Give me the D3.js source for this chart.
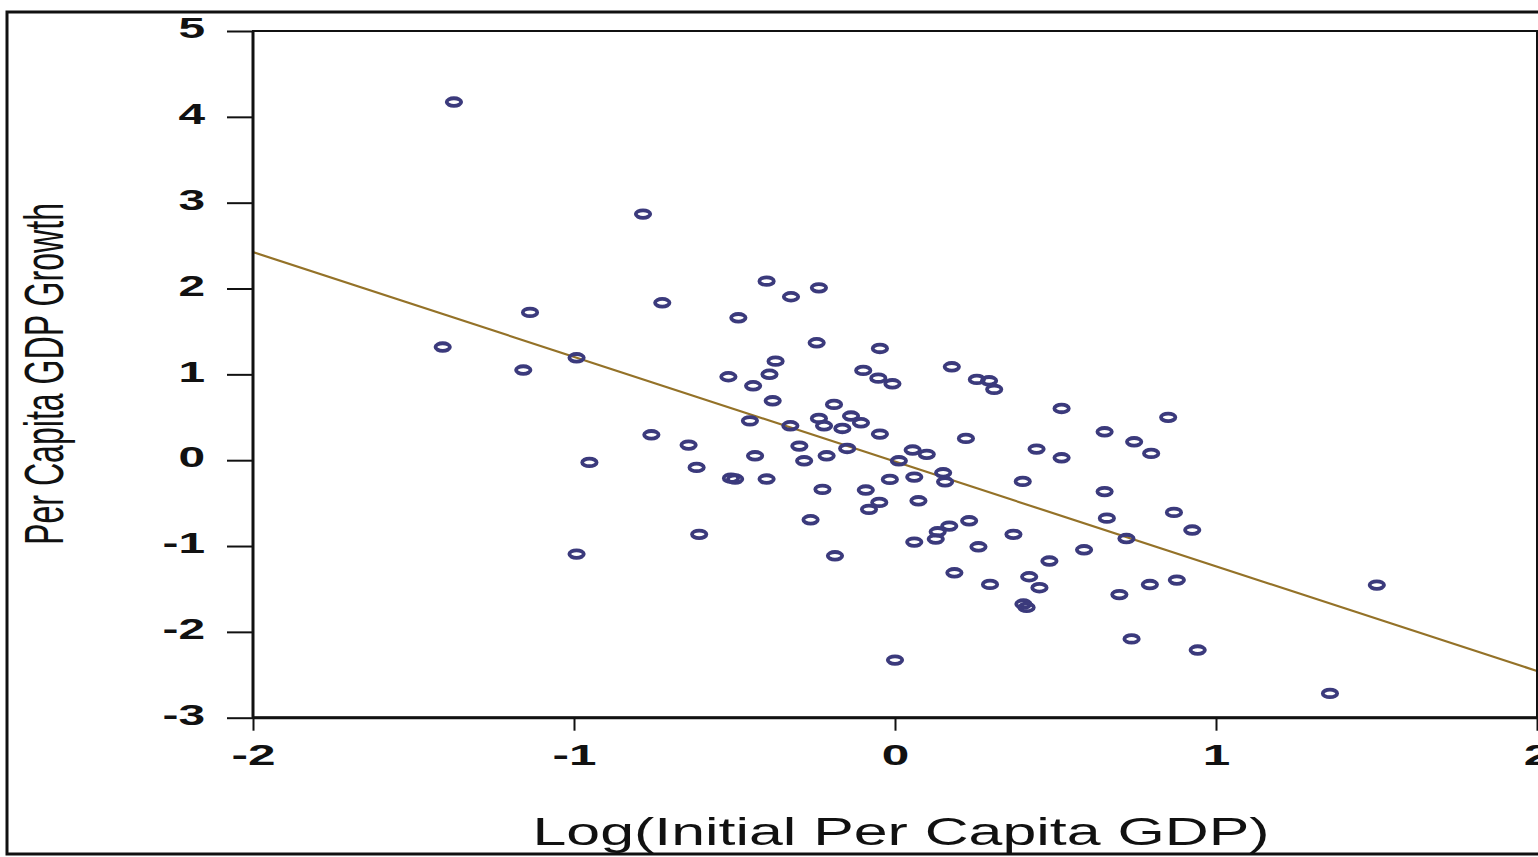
<!DOCTYPE html>
<html>
<head>
<meta charset="utf-8">
<script src="https://cdn.jsdelivr.net/npm/d3@7"></script>
<style>
  html, body { margin: 0; padding: 0; background: #fff; overflow: hidden; }
  svg { display: block; }
</style>
</head>
<body>
<svg id="chart" width="1538" height="857"></svg>
<script>
// Log of initial per capita GDP (deviation from sample mean) for each economy
const logInitialGdp = [
  -1.374, -0.785, -1.409, -1.137, -1.158, -0.992, -0.952, -0.992, -0.725, -0.759,
  -0.400, -0.324, -0.237, -0.488, -0.244, -0.372, -0.391, -0.519, -0.442, -0.381,
  -0.452, -0.326, -0.643, -0.618, -0.498, -0.511, -0.400, -0.436, -0.610, -0.047,
  -0.099, -0.052, -0.008, 0.177, 0.255, 0.293, 0.309, -0.190, 0.519, -0.237,
  -0.221, -0.164, -0.137, -0.106, -0.047, 0.653, 0.745, 0.798, -0.298, -0.283,
  -0.213, -0.149, 0.055, 0.099, 0.012, 0.221, 0.441, 0.519, -0.226, -0.091,
  -0.016, 0.060, 0.150, 0.156, 0.398, 0.653, -0.049, 0.073, -0.081, -0.263,
  0.169, 0.133, 0.127, 0.231, 0.060, 0.260, 0.369, 0.660, 0.721, 0.589,
  0.481, -0.187, 0.185, 0.296, 0.418, 0.450, 0.400, 0.410, 0.699, 0.794,
  0.878, 0.737, 0.000, 0.851, 0.869, 0.926, 1.501, 0.943, 1.355
];

// Subsequent per capita GDP growth for the same economies
const perCapitaGrowth = [
  4.172, 2.867, 1.318, 1.722, 1.050, 1.193, -0.026, -1.094, 1.834, 0.296,
  2.086, 1.904, 2.008, 1.659, 1.368, 1.154, 1.001, 0.972, 0.867, 0.692,
  0.458, 0.401, 0.176, -0.084, -0.220, -0.209, -0.220, 0.051, -0.864, 1.302,
  1.046, 0.956, 0.890, 1.088, 0.941, 0.925, 0.825, 0.650, 0.603, 0.487,
  0.401, 0.370, 0.514, 0.436, 0.304, 0.331, 0.214, 0.079, 0.164, -0.007,
  0.051, 0.137, 0.118, 0.068, -0.007, 0.254, 0.129, 0.028, -0.340, -0.348,
  -0.224, -0.197, -0.147, -0.252, -0.247, -0.366, -0.492, -0.473, -0.573, -0.694,
  -0.768, -0.834, -0.919, -0.706, -0.954, -1.009, -0.864, -0.675, -0.913, -1.044,
  -1.175, -1.114, -1.312, -1.447, -1.358, -1.486, -1.676, -1.715, -1.566, -1.449,
  -1.397, -2.082, -2.329, 0.499, -0.608, -0.814, -1.455, -2.212, -2.717
];

// Least-squares fit of growth on log initial GDP
const fitIntercept = -0.016;
const fitSlope = -1.220;

const xTicks = [-2, -1, 0, 1, 2];
const yTicks = [-3, -2, -1, 0, 1, 2, 3, 4, 5];

const xLabel = "Log(Initial Per Capita GDP)";
const yLabel = "Per Capita GDP Growth";

const svg = d3.select("#chart");
const font = "'Liberation Sans', Arial, Helvetica, sans-serif";

const x = d3.scaleLinear().domain([-2, 2]).range([253, 1537]);
const y = d3.scaleLinear().domain([-3, 5]).range([717.7, 31]);

// outer figure border
svg.append("rect")
  .attr("x", 7).attr("y", 12)
  .attr("width", 1600).attr("height", 842)
  .attr("fill", "none").attr("stroke", "#111").attr("stroke-width", 3);

// fitted regression line
const lineData = x.domain().map(v => ({ lx: v, ly: fitIntercept + fitSlope * v }));
svg.append("path")
  .datum(lineData)
  .attr("fill", "none")
  .attr("stroke", "#947228")
  .attr("stroke-width", 2.2)
  .attr("d", d3.line().x(d => x(d.lx)).y(d => y(d.ly)));

// scatter points drawn as open ellipses
const pts = logInitialGdp.map((v, i) => ({ gx: v, gy: perCapitaGrowth[i] }));
svg.append("g")
  .selectAll("ellipse")
  .data(pts)
  .join("ellipse")
  .attr("cx", d => x(d.gx))
  .attr("cy", d => y(d.gy))
  .attr("rx", 7.2)
  .attr("ry", 3.8)
  .attr("fill", "none")
  .attr("stroke", "#3b3a7c")
  .attr("stroke-width", 3.8);

// plot frame
svg.append("rect")
  .attr("x", x(-2)).attr("y", y(5))
  .attr("width", x(2) - x(-2)).attr("height", y(-3) - y(5))
  .attr("fill", "none").attr("stroke", "#111").attr("stroke-width", 2);
svg.append("line")
  .attr("x1", x(-2)).attr("x2", x(-2)).attr("y1", y(5)).attr("y2", y(-3))
  .attr("stroke", "#111").attr("stroke-width", 3);
svg.append("line")
  .attr("x1", x(-2)).attr("x2", x(2)).attr("y1", y(-3)).attr("y2", y(-3))
  .attr("stroke", "#111").attr("stroke-width", 3);

// y axis
const yAxis = svg.append("g")
  .attr("transform", `translate(${x(-2)},0)`)
  .call(d3.axisLeft(y).tickValues(yTicks).tickSize(26).tickFormat(d => String(d)));
yAxis.select(".domain").remove();
yAxis.selectAll(".tick line").attr("stroke", "#111").attr("stroke-width", 2);
yAxis.selectAll(".tick text")
  .attr("x", 0).attr("dy", "0.3em")
  .attr("transform", "translate(-48,-2) scale(1.65,1)")
  .attr("text-anchor", "end")
  .attr("font-family", font)
  .attr("font-weight", "bold")
  .attr("font-size", 29)
  .attr("fill", "#111");

// x axis
const xAxis = svg.append("g")
  .attr("transform", `translate(0,${y(-3)})`)
  .call(d3.axisBottom(x).tickValues(xTicks).tickSize(13).tickFormat(d => String(d)));
xAxis.select(".domain").remove();
xAxis.selectAll(".tick line").attr("stroke", "#111").attr("stroke-width", 2);
xAxis.selectAll(".tick text")
  .attr("y", 0).attr("dy", 0)
  .attr("transform", "translate(0,47) scale(1.65,1)")
  .attr("text-anchor", "middle")
  .attr("font-family", font)
  .attr("font-weight", "bold")
  .attr("font-size", 30)
  .attr("fill", "#111");

// axis titles
svg.append("text")
  .attr("x", 901).attr("y", 845)
  .attr("text-anchor", "middle")
  .attr("font-family", font)
  .attr("font-size", 38)
  .attr("fill", "#111")
  .attr("textLength", 737)
  .attr("lengthAdjust", "spacingAndGlyphs")
  .text(xLabel);

svg.append("text")
  .attr("transform", "translate(63,374) rotate(-90)")
  .attr("text-anchor", "middle")
  .attr("font-family", "'Liberation Sans Narrow', 'Liberation Sans', Arial, sans-serif")
  .attr("font-size", 55)
  .attr("fill", "#111")
  .attr("textLength", 342)
  .attr("lengthAdjust", "spacingAndGlyphs")
  .text(yLabel);
</script>
</body>
</html>
